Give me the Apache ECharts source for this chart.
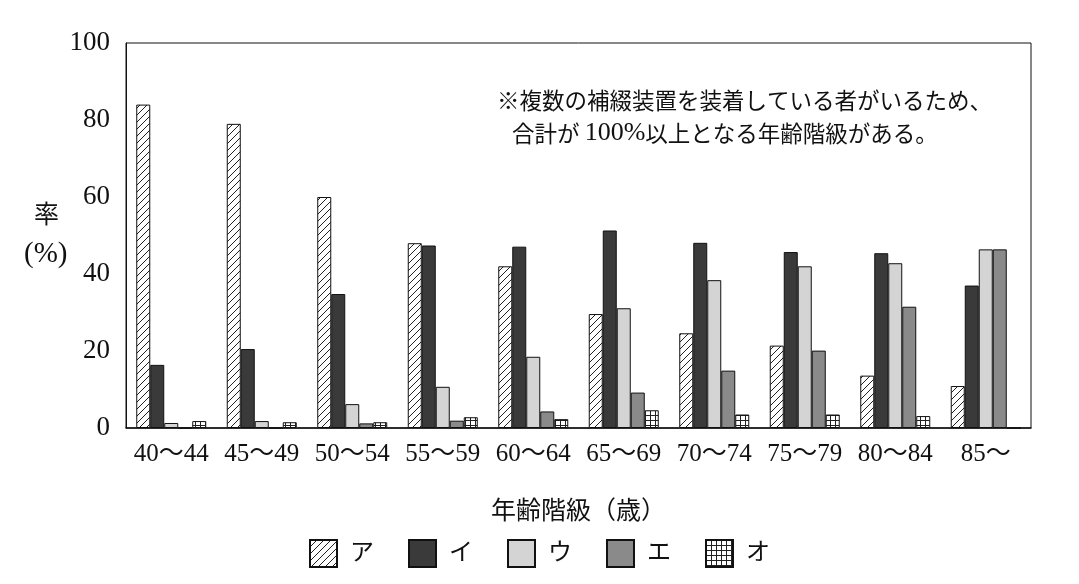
<!DOCTYPE html>
<html>
<head>
<meta charset="utf-8">
<script src="https://cdn.jsdelivr.net/npm/echarts@6/dist/echarts.min.js"></script>
<style>
  html, body { margin: 0; padding: 0; background: #fff; }
  #chart { width: 1079px; height: 584px; }
</style>
</head>
<body>
<div id="chart"></div>
<script>
var ages = ['40～44', '45～49', '50～54', '55～59', '60～64', '65～69', '70～74', '75～79', '80～84', '85～'];
var names = ['ア', 'イ', 'ウ', 'エ', 'オ'];
var a = [84, 79, 60, 48, 42, 29.6, 24.6, 21.4, 13.6, 10.9];
var i = [16.4, 20.5, 34.8, 47.4, 47.1, 51.3, 48.1, 45.7, 45.4, 37];
var u = [1.3, 1.8, 6.2, 10.7, 18.5, 31.1, 38.4, 42, 42.8, 46.4];
var e = [0, 0, 1.2, 1.9, 4.3, 9.2, 14.9, 20.1, 31.5, 46.4];
var o = [1.8, 1.5, 1.5, 2.8, 2.3, 4.6, 3.5, 3.5, 3.1, 0];
var yTicks = [0, 20, 40, 60, 80, 100];

var FONT = "'Liberation Serif', 'Noto Sans CJK JP', serif";

// hatch "/" pattern
function hatch() {
    var s = 7, c = document.createElement('canvas');
    c.width = s; c.height = s;
    var g = c.getContext('2d');
    g.fillStyle = '#fff';
    g.fillRect(0, 0, s, s);
    g.strokeStyle = '#222';
    g.lineWidth = 1;
    g.beginPath();
    g.moveTo(-1, s + 1); g.lineTo(s + 1, -1);
    g.moveTo(-1, 1); g.lineTo(1, -1);
    g.moveTo(s - 1, s + 1); g.lineTo(s + 1, s - 1);
    g.stroke();
    return c;
}
// square grid pattern
function grid() {
    var s = 5, c = document.createElement('canvas');
    c.width = s; c.height = s;
    var g = c.getContext('2d');
    g.fillStyle = '#fff';
    g.fillRect(0, 0, s, s);
    g.fillStyle = '#222';
    g.fillRect(0, 0, s, 1);
    g.fillRect(0, 0, 1, s);
    return c;
}

var fills = [
    { image: hatch(), repeat: 'repeat' },
    '#3a3a3a',
    '#d4d4d4',
    '#8a8a8a',
    { image: grid(), repeat: 'repeat' }
];
var values = [a, i, u, e, o];

var myChart = echarts.init(document.getElementById('chart'));
var series = names.map(function (n, k) {
    return {
        name: n,
        type: 'bar',
        data: values[k],
        barWidth: 14,
        barGap: '0%',
        itemStyle: {
            color: fills[k],
            borderColor: '#111',
            borderWidth: 1
        }
    };
});

var option = {
    animation: false,
    backgroundColor: '#fff',
    grid: {
        left: 126, right: 48, top: 43, bottom: 156,
        show: true, borderColor: '#111', borderWidth: 1
    },
    xAxis: {
        type: 'category',
        data: ages,
        name: '年齢階級（歳）',
        nameLocation: 'middle',
        nameGap: 72,
        nameTextStyle: { fontFamily: FONT, fontSize: 25, color: '#111' },
        axisLine: { lineStyle: { color: '#111', width: 1.5 } },
        axisTick: { show: false },
        axisLabel: { interval: 0, fontFamily: FONT, fontSize: 25, color: '#111', margin: 14 }
    },
    yAxis: {
        type: 'value',
        min: yTicks[0],
        max: yTicks[yTicks.length - 1],
        interval: 20,
        axisLine: { show: true, lineStyle: { color: '#111', width: 1 } },
        axisTick: { show: false },
        splitLine: { show: false },
        axisLabel: { fontFamily: FONT, fontSize: 27, color: '#111', margin: 16 }
    },
    legend: {
        data: names.map(function (n) { return { name: n, icon: 'rect' }; }),
        bottom: 11,
        left: 'center',
        itemWidth: 27,
        itemHeight: 27,
        itemGap: 34,
        textStyle: { fontFamily: FONT, fontSize: 24, color: '#111', padding: [0, 0, 0, 8] }
    },
    graphic: [
        {
            type: 'text', left: 34, top: 201,
            style: { text: '率', font: "25px 'Noto Sans CJK JP'", fill: '#111' }
        },
        {
            type: 'text', left: 24, top: 240,
            style: { text: '(%)', font: "29px 'Liberation Serif', 'Noto Sans CJK JP'", fill: '#111' }
        },
        {
            type: 'text', left: 497, top: 84,
            style: {
                text: '※複数の補綴装置を装着している者がいるため、\n   合計が {n|100%}以上となる年齢階級がある。',
                font: "22.5px 'Noto Sans CJK JP'",
                lineHeight: 33,
                fill: '#111',
                rich: {
                    n: { fontFamily: "'Liberation Serif'", fontSize: 26, lineHeight: 33, fill: '#111' }
                }
            }
        }
    ],
    series: series
};
myChart.setOption(option);
</script>
</body>
</html>
